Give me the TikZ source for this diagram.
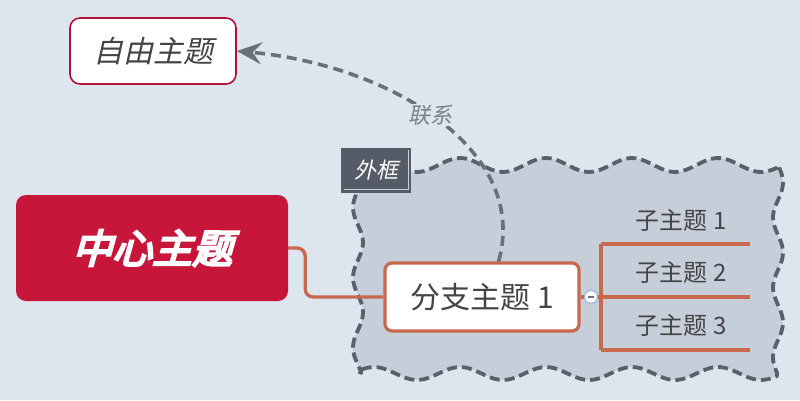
\documentclass[tikz,border=0pt]{standalone}
\usepackage{fontspec}
\setmainfont{Noto Sans CJK SC}
\newfontfamily\cjk{Noto Sans CJK SC}
\newfontfamily\cjkit[FakeSlant=0.22]{Noto Sans CJK SC}
\newfontfamily\cjkbi[FakeSlant=0.28,FakeBold=5.5]{Noto Sans CJK SC}
\usetikzlibrary{arrows.meta,calc}
\definecolor{bg}{HTML}{DDE5EF}
\definecolor{centralred}{HTML}{C8163A}
\definecolor{freeborder}{HTML}{B0103A}
\definecolor{branchline}{HTML}{C8684E}
\definecolor{boundfill}{HTML}{C6CED9}
\definecolor{bounddash}{HTML}{5A606A}
\definecolor{labelbox}{HTML}{555B67}
\definecolor{txt}{HTML}{444444}
\definecolor{relline}{HTML}{6A7078}
\definecolor{reltxt}{HTML}{7A7F88}
\definecolor{colborder}{HTML}{9FB3DA}
\tikzset{
  freetopic/.style={draw=freeborder, line width=1.6pt, fill=white, rounded corners=10pt,
    minimum width=166pt, minimum height=66pt, inner sep=0pt, text=txt,
    font=\cjkit\fontsize{30}{32}\selectfont},
  central/.style={fill=centralred, rounded corners=10pt, minimum width=272pt,
    minimum height=106pt, inner sep=0pt, text=white,
    font=\cjkbi\fontsize{40}{42}\selectfont},
  branch/.style={draw=branchline, line width=3.2pt, fill=white, rounded corners=7pt,
    minimum width=194pt, minimum height=68pt, inner sep=0pt, text=txt,
    font=\cjk\fontsize{30}{32}\selectfont},
  subtopic/.style={inner sep=0pt, text=txt, font=\cjk\fontsize{24}{26}\selectfont},
  blabel/.style={fill=labelbox, minimum width=70pt, minimum height=45pt, inner sep=0pt,
    text=white, font=\cjkit\fontsize{22}{24}\selectfont},
  boundary/.style={draw=bounddash, fill=boundfill, line width=3.8pt,
    dash pattern=on 10pt off 5pt, line join=round},
  conn/.style={draw=branchline, line width=3.3pt},
  rel/.style={draw=relline, line width=3.6pt, dash pattern=on 10pt off 6pt,
    -{Stealth[length=25pt,width=22pt,inset=9pt]}},
  rellabel/.style={fill=bg, inner sep=1pt, text=reltxt,
    font=\cjkit\fontsize{22}{24}\selectfont},
  collapse/.style={circle, draw=colborder, line width=1.2pt, fill=white,
    minimum size=13pt, inner sep=0pt}
}
\begin{document}
\begin{tikzpicture}[x=1pt,y=-1pt]
\fill[bg] (0,0) rectangle (800,400);
\useasboundingbox (0,0) rectangle (800,400);
% boundary (wavy, dashed)
\path[boundary]
  plot[domain=358:777, samples=90] (\x, {165-7*cos(4.186*(\x-460))})
  -- plot[domain=165:373, samples=60] ({778+5*sin(5.143*(\x-165))}, \x)
  -- plot[domain=777:358, samples=90] (\x, {373.5-6.5*cos(4.186*(\x-460))})
  -- plot[domain=373:165, samples=60] ({358-5*sin(5.143*(\x-190))}, \x)
  -- cycle;
% nodes
\node[freetopic] (free) at (153,51) {自由主题};
\node[central] (central) at (152,248) {中心主题};
\node[branch] (branch) at (482,297) {分支主题 1};
\node[blabel] (blabel) at (376,170) {外框};
\draw[white!70!labelbox, line width=0.8pt] ($(blabel.north east)+(-3,3)$) |- ($(blabel.south west)+(3,-3)$);
\node[subtopic] (s1) at (681,220) {子主题 1};
\node[subtopic] (s2) at (681,272) {子主题 2};
\node[subtopic] (s3) at (681,325) {子主题 3};
\node[collapse] (col) at (591,297) {};
\draw[relline, line width=1.4pt] ($(col.center)+(-3,0)$) -- ++(6,0);
% tree coordinates
\coordinate (v1) at (601,244);
\coordinate (v2) at (601,297);
\coordinate (v3) at (601,350);
\coordinate (h1) at (750,244);
\coordinate (h2) at (750,297);
\coordinate (h3) at (750,350);
% connectors
\draw[conn, rounded corners=8pt] (central.east) -- ++(17,0) |- (branch.west);
\draw[conn] (branch.east) -- (col.west);
\draw[conn] (col.east) -- (v2);
\draw[conn] (v1) -- (v3);
\draw[conn] (v1) -- (h1);
\draw[conn] (v2) -- (h2);
\draw[conn] (v3) -- (h3);
% relationship
\draw[rel] (branch.65) .. controls (530,150) and (390,65) .. (free.east)
  node[rellabel, pos=0.52] (rl) {联系};
\end{tikzpicture}
\end{document}
